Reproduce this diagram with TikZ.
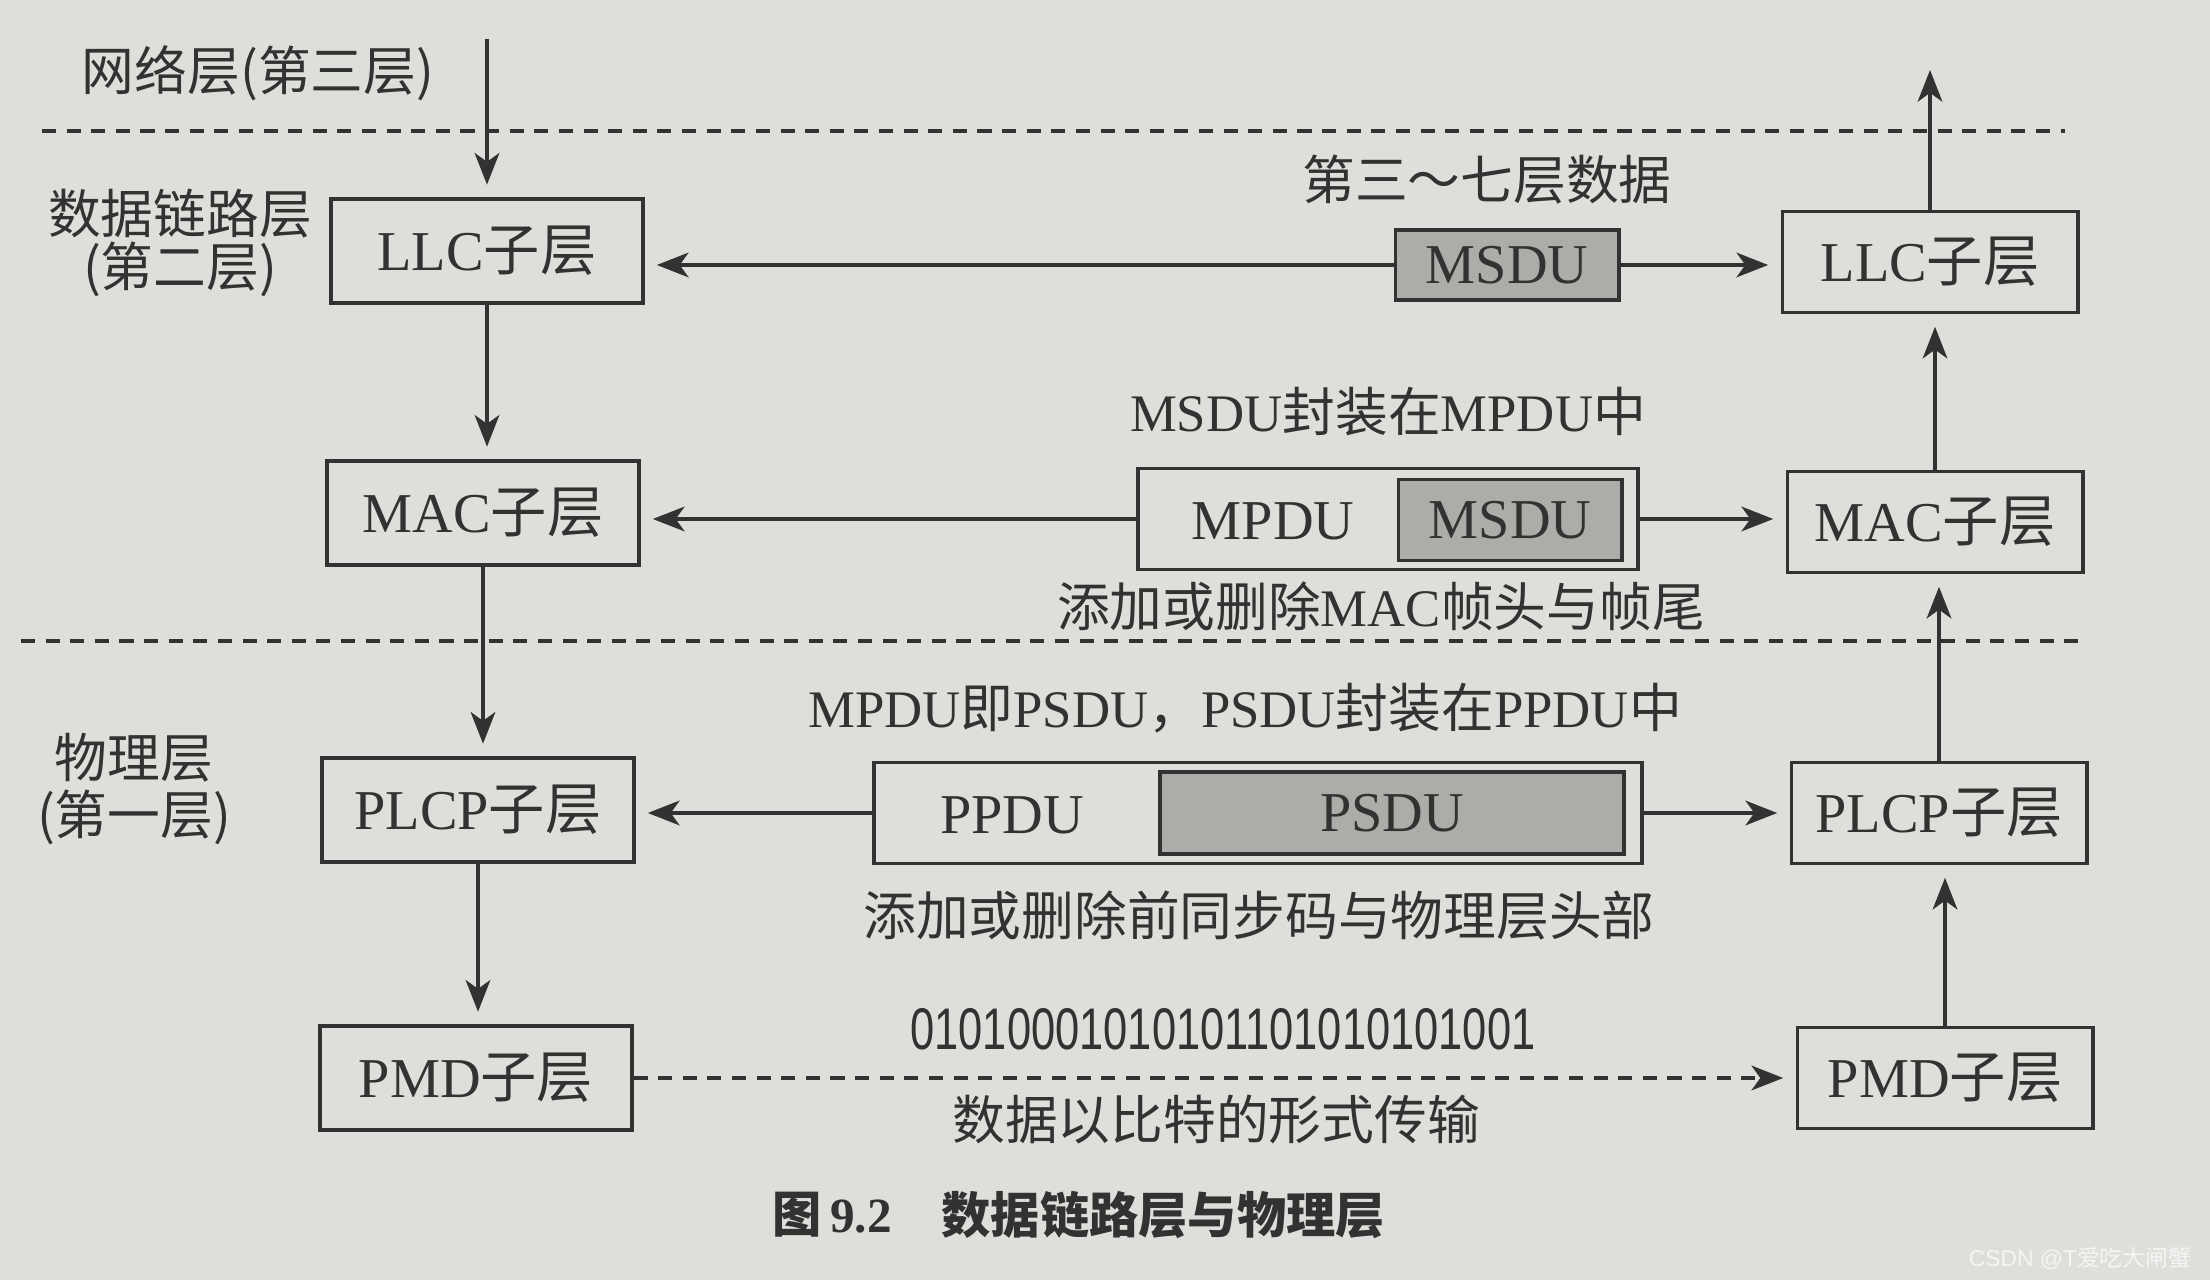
\documentclass[tikz,border=0pt]{standalone}
\usepackage{fontspec}
\setmainfont{Liberation Serif}
\newfontfamily\cjk{Noto Sans CJK SC}
\newfontfamily\binfont{Liberation Sans}
\usetikzlibrary{arrows.meta}
\definecolor{paper}{RGB}{222,222,218}
\definecolor{ink}{RGB}{50,50,50}
\definecolor{shade}{RGB}{172,172,168}
\newcommand\zh[1]{{\cjk #1}}
\tikzset{
  box/.style={draw=ink, line width=1.1pt, fill=paper, minimum width=3.11cm,
    minimum height=1.04cm, inner sep=0pt, text=ink, font=\fontsize{16}{18}\selectfont},
  boxr/.style={box, minimum width=2.95cm, minimum height=1.01cm},
  gbox/.style={draw=ink, line width=1.1pt, fill=shade, inner sep=0pt, text=ink,
    font=\fontsize{16}{18}\selectfont},
  obox/.style={draw=ink, line width=1.1pt, fill=paper, inner sep=0pt},
  lbl/.style={inner sep=0pt, text=ink, font=\fontsize{15}{18}\selectfont},
  arr/.style={draw=ink, line width=1.1pt, shorten >=3.5pt,
    -{Stealth[length=9pt,width=7pt,inset=2.5pt]}},
  dsh/.style={dash pattern=on 4pt off 3pt},
  sep/.style={draw=ink, line width=1.1pt, dash pattern=on 4pt off 3pt}
}
\begin{document}
\begin{tikzpicture}[x=0.01cm,y=-0.01cm]
\fill[paper] (0,0) rectangle (2210,1280);
\useasboundingbox (0,0) rectangle (2210,1280);

% separators
\draw[sep] (42,131) -- (2065,131);
\draw[sep] (21,641) -- (2083,641);

% left column
\node[box] (llcL) at (487,251) {LLC\zh{子层}};
\node[box] (macL) at (483,513) {MAC\zh{子层}};
\node[box] (plcpL) at (478,810) {PLCP\zh{子层}};
\node[box] (pmdL) at (476,1078) {PMD\zh{子层}};

% right column
\node[boxr] (llcR) at (1930,262) {LLC\zh{子层}};
\node[boxr] (macR) at (1935,522) {MAC\zh{子层}};
\node[boxr] (plcpR) at (1939,813) {PLCP\zh{子层}};
\node[boxr] (pmdR) at (1945,1078) {PMD\zh{子层}};

% data units
\node[gbox, minimum width=2.23cm, minimum height=0.70cm] (msdu1) at (1507,265) {MSDU};
\node[obox, minimum width=4.99cm, minimum height=1.01cm] (mpdu) at (1388,519) {};
\node[gbox, minimum width=2.23cm, minimum height=0.81cm] (msdu2) at (1510,520) {MSDU};
\node[lbl, font=\fontsize{16}{18}\selectfont] (mpdut) at (1273,521) {MPDU};
\node[obox, minimum width=7.68cm, minimum height=1.01cm] (ppdu) at (1258,813) {};
\node[gbox, minimum width=4.64cm, minimum height=0.82cm] (psdu) at (1392,813) {PSDU};
\node[lbl, font=\fontsize{16}{18}\selectfont] (ppdut) at (1012,815) {PPDU};

% labels
\node[lbl] (net) at (258,73) {\zh{网络层(第三层)}};
\node[lbl] (dl1) at (180,214) {\zh{数据链路层}};
\node[lbl] (dl2) at (180,269) {\zh{(第二层)}};
\node[lbl] (ph1) at (134,758) {\zh{物理层}};
\node[lbl] (ph2) at (134,817) {\zh{(第一层)}};
\node[lbl] (t1) at (1487,180) {\zh{第三～七层数据}};
\node[lbl] (t2) at (1388,412) {MSDU\zh{封装在}MPDU\zh{中}};
\node[lbl] (t3) at (1381,606) {\zh{添加或删除}MAC\zh{帧头与帧尾}};
\node[lbl] (t4) at (1245,708) {MPDU\zh{即}PSDU\zh{，}PSDU\zh{封装在}PPDU\zh{中}};
\node[lbl] (t5) at (1259,916) {\zh{添加或删除前同步码与物理层头部}};
\node[lbl] (bits) at (1223,1029) {\binfont\fontsize{16.7}{18}\selectfont\scalebox{0.74}[1]{01010001010101101010101001}};
\node[lbl] (t6) at (1216,1120) {\zh{数据以比特的形式传输}};

% caption
\node[lbl, anchor=west, font=\fontsize{14}{16}\selectfont\bfseries] (cap1) at (772,1215) {\zh{图}\,9.2};
\node[lbl, anchor=west, font=\fontsize{14}{16}\selectfont\bfseries] (cap2) at (941,1215) {\zh{数据链路层与物理层}};

% watermark
\node[inner sep=0pt, anchor=east, text=white!96!black, font=\binfont\fontsize{6.5}{8}\selectfont] (wm) at (2192,1258) {CSDN @T\zh{爱吃大闸蟹}};

% arrows
\coordinate (netin) at (487,39);
\coordinate (netout) at (1927,70);
\draw[arr] (netin) -- (netin |- llcL.north);
\draw[arr] (llcL.south) -- (llcL.south |- macL.north);
\draw[arr] (macL.south) -- (macL.south |- plcpL.north);
\draw[arr] (plcpL.south) -- (plcpL.south |- pmdL.north);

\draw[arr] (pmdR.north) -- (pmdR.north |- plcpR.south);
\draw[arr] (plcpR.north) -- (plcpR.north |- macR.south);
\draw[arr] (macR.north) -- (macR.north |- llcR.south);
\draw[arr, shorten >=0pt] (llcR.north) -- (llcR.north |- netout);

\draw[arr] (msdu1.west) -- (msdu1.west -| llcL.east);
\draw[arr] (msdu1.east) -- (msdu1.east -| llcR.west);
\draw[arr] (mpdu.west) -- (mpdu.west -| macL.east);
\draw[arr] (mpdu.east) -- (mpdu.east -| macR.west);
\draw[arr] (ppdu.west) -- (ppdu.west -| plcpL.east);
\draw[arr] (ppdu.east) -- (ppdu.east -| plcpR.west);
\draw[arr, dsh] (pmdL.east) -- (pmdL.east -| pmdR.west);
\end{tikzpicture}
\end{document}
